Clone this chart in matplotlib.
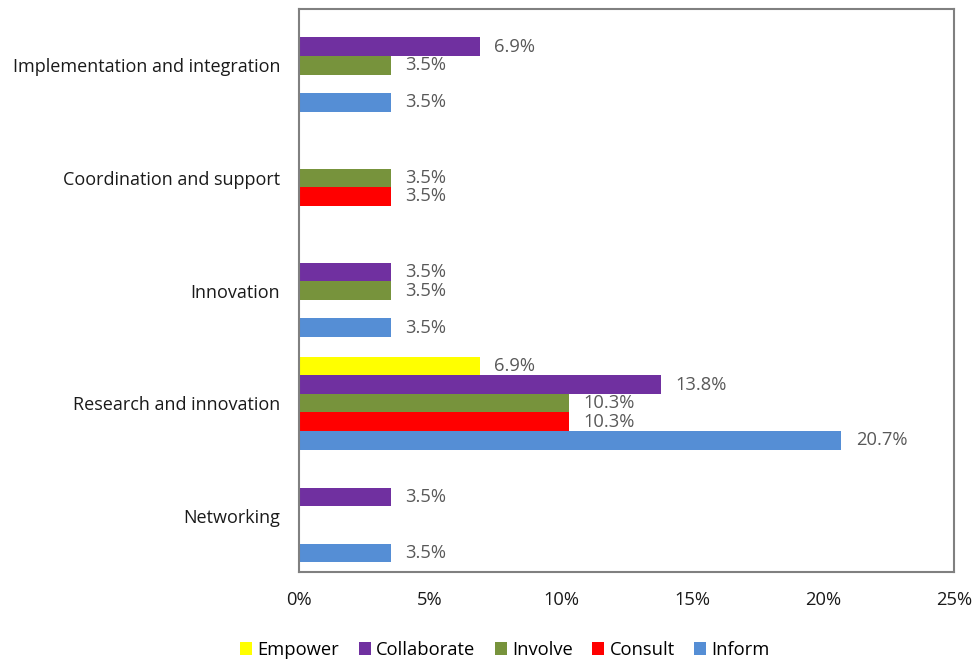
import matplotlib
matplotlib.use("Agg")
import matplotlib.pyplot as plt
import numpy as np

plt.rcParams['font.family'] = ['Open Sans', 'DejaVu Sans']

categories = ["Networking", "Research and innovation", "Innovation",
              "Coordination and support", "Implementation and integration"]
series_names = ["Empower", "Collaborate", "Involve", "Consult", "Inform"]
empower = [0, 6.9, 0, 0, 0]
collaborate = [3.5, 13.8, 3.5, 0, 6.9]
involve = [0, 10.3, 3.5, 3.5, 3.5]
consult = [0, 10.3, 0, 3.5, 0]
inform = [3.5, 20.7, 3.5, 0, 3.5]
colors = ["#FFFF00", "#7030A0", "#77933C", "#FF0000", "#558ED5"]
xticks = [0, 5, 10, 15, 20, 25]
xtick_labels = ["0%", "5%", "10%", "15%", "20%", "25%"]

series = [empower, collaborate, involve, consult, inform]

W, H = 973, 664
fig = plt.figure(figsize=(W / 100, H / 100), dpi=100)
ax = fig.add_axes([299 / W, 1 - 572 / H, (954 - 299) / W, (572 - 9) / H])

y = np.arange(len(categories))
bh = 0.165
for i, (name, vals, c) in enumerate(zip(series_names, series, colors)):
    offs = (2 - i) * bh
    ypos = y + offs
    ax.barh(ypos, vals, height=bh, color=c, label=name, linewidth=0)
    for yy, v in zip(ypos, vals):
        if v > 0:
            ax.text(v + 0.55, yy, f"{v:.1f}%", va='center', ha='left',
                    fontsize=13.2, color='#595959')

ax.set_xlim(0, 25)
ax.set_ylim(-0.5, len(categories) - 0.5)
ax.set_yticks(y)
ax.set_yticklabels(categories, fontsize=12.95, color='#1a1a1a')
ax.set_xticks(xticks)
ax.set_xticklabels(xtick_labels, fontsize=13.2, color='#1a1a1a')
ax.tick_params(axis='both', length=0)
ax.tick_params(axis='y', pad=13.5)
ax.tick_params(axis='x', pad=14)
for s in ax.spines.values():
    s.set_color('#808080')
    s.set_linewidth(1.5)

handles, labels = ax.get_legend_handles_labels()
fig.legend(handles, labels, loc='center', bbox_to_anchor=(505 / W, 1 - 650 / H),
           ncol=5, frameon=False, fontsize=13.2, handlelength=0.65, handleheight=0.65,
           handletextpad=0.3, columnspacing=1.05)

fig.savefig("out.png", dpi=100, facecolor='white')
